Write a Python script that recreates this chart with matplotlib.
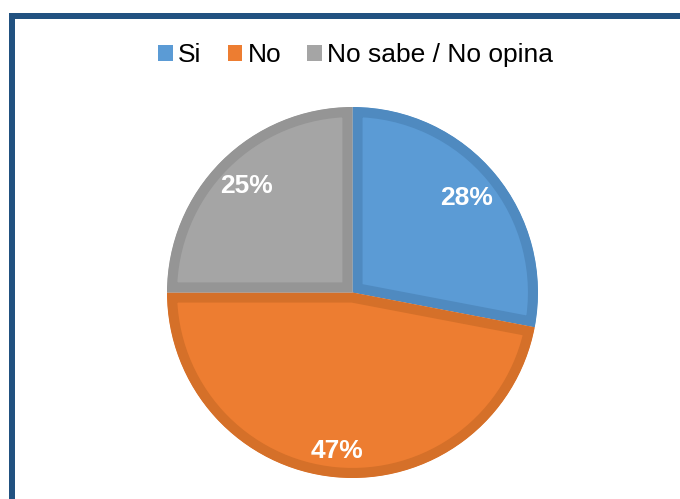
import numpy as np
import matplotlib
matplotlib.use("Agg")
import matplotlib.pyplot as plt
from matplotlib.patches import Patch, Rectangle

categories = ["Si", "No", "No sabe / No opina"]
values = [28, 47, 25]
labels = ["28%", "47%", "25%"]
fill_colors = ["#5B9BD5", "#ED7D31", "#A5A5A5"]
edge_colors = ["#4F8AC0", "#D57029", "#959595"]
label_dist = [0.80, 0.86, 0.81]

plt.rcParams['font.family'] = ['Liberation Sans', 'DejaVu Sans']

W, H = 680, 499
fig = plt.figure(figsize=(W / 100, H / 100), dpi=100)

# frame (partially cropped, top and left visible)
frame_col = "#215180"
fig.add_artist(Rectangle((9 / W, 0), 6 / W, (H - 13) / H, transform=fig.transFigure,
                         facecolor=frame_col, edgecolor='none'))
fig.add_artist(Rectangle((9 / W, (H - 19) / H), (W - 9) / W, 6 / H, transform=fig.transFigure,
                         facecolor=frame_col, edgecolor='none'))

ax = fig.add_axes([167 / W, (H - 478) / H, 371 / W, 371 / H])
wedges, _ = ax.pie(values, colors=fill_colors, startangle=90, counterclock=False,
                   radius=1.0, wedgeprops=dict(linewidth=14.5, antialiased=True))
ax.set_xlim(-1, 1)
ax.set_ylim(-1, 1)
ax.set_aspect('equal')
ax.axis('off')

for w, ec in zip(wedges, edge_colors):
    w.set_edgecolor(ec)
    w.set_clip_on(True)
    w.set_clip_path(w)

for w, lab, d in zip(wedges, labels, label_dist):
    ang = np.deg2rad((w.theta1 + w.theta2) / 2)
    ax.text(d * np.cos(ang), d * np.sin(ang), lab, ha='center', va='center',
            color='white', fontsize=19, fontweight='bold')

handles = [Patch(facecolor=c, edgecolor='none') for c in fill_colors]
fig.legend(handles, categories, loc='center', bbox_to_anchor=(0.523, 0.889), ncol=3,
           frameon=False, fontsize=19, handlelength=0.55, handleheight=0.55,
           handletextpad=0.2, columnspacing=1.0, labelcolor='black')

fig.savefig("out.png", dpi=100, facecolor='white')
